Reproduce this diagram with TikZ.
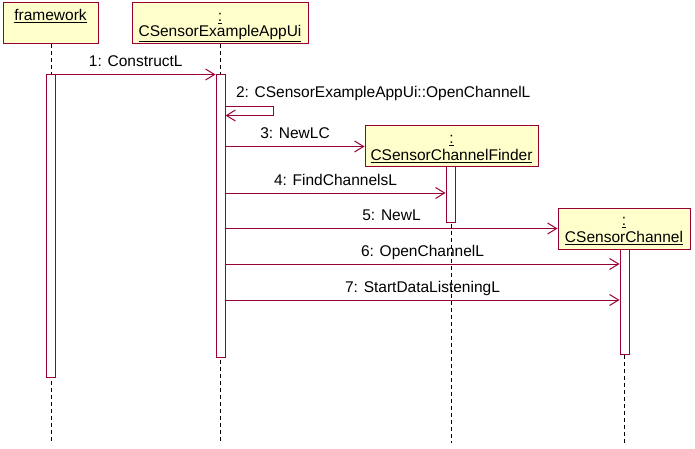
\documentclass[tikz,border=0pt]{standalone}
\usepackage{fontspec}
\setmainfont{Liberation Sans}
\usetikzlibrary{arrows.meta}
\definecolor{umlred}{RGB}{153,0,51}
\definecolor{umlfill}{RGB}{255,255,204}
\tikzset{
  objbox/.style={draw=umlred, fill=umlfill, line width=1pt, rectangle, inner sep=0pt},
  actbar/.style={draw=umlred, fill=white, line width=1pt, rectangle, inner sep=0pt, minimum width=9pt},
  lifeline/.style={draw=black, line width=1pt, dash pattern=on 4pt off 3pt},
  msg/.style={draw=umlred, line width=1pt, -{Straight Barb[length=9pt,width=11pt]}},
  msglabel/.style={anchor=base, yshift=8pt, inner sep=0pt, text=black},
  boxtext/.style={anchor=base, inner sep=0pt, text=black}
}
\begin{document}
\begin{tikzpicture}[x=1pt,y=-1pt,font=\fontsize{15.5pt}{18pt}\selectfont]
\useasboundingbox (0,0) rectangle (695,449);
% object boxes
\node[objbox, minimum width=95pt, minimum height=41pt] (fw) at (50.5,23.5) {};
\node[boxtext] (fwt) at ([yshift=-18pt]fw.north) {\underline{framework}};
\node[objbox, minimum width=176pt, minimum height=41pt] (ui) at (220,23.5) {};
\node[boxtext] (uic) at ([yshift=-19pt]ui.north) {\underline{:}};
\node[boxtext] (uit) at ([yshift=-34pt]ui.north) {\underline{CSensorExampleAppUi}};
\node[objbox, minimum width=173pt, minimum height=41pt] (cf) at (451.5,146.5) {};
\node[boxtext] (cfc) at ([yshift=-18pt]cf.north) {\underline{:}};
\node[boxtext] (cft) at ([yshift=-35pt]cf.north) {\underline{CSensorChannelFinder}};
\node[objbox, minimum width=132pt, minimum height=41pt] (ch) at (624,228.5) {};
\node[boxtext] (chc) at ([yshift=-18pt]ch.north) {\underline{:}};
\node[boxtext] (cht) at ([yshift=-35pt]ch.north) {\underline{CSensorChannel}};
% lifeline ends
\coordinate (fwend) at (51,443);
\coordinate (uiend) at (220.5,443);
\coordinate (cfend) at (451,443);
\coordinate (chend) at (624.5,443);
\draw[lifeline] (fwend |- fw.south) -- (fwend);
\draw[lifeline] (uiend |- ui.south) -- (uiend);
\draw[lifeline] (cfend |- cf.south) -- (cfend);
\draw[lifeline] (chend |- ch.south) -- (chend);
% activation bars
\node[actbar, minimum height=302pt] (fwbar) at (51,226) {};
\node[actbar, minimum height=282pt] (uibar) at (220.5,216) {};
\node[actbar, minimum height=55pt] (cfbar) at (450.5,194.5) {};
\node[actbar, minimum height=105pt] (chbar) at (624.5,301.5) {};
% message rows
\coordinate (m4) at (0,193);
\coordinate (m6) at (0,264);
\coordinate (m7) at (0,300);
% messages
\draw[msg] (fwbar.north east) -- node[msglabel, midway] {1: ConstructL} (uibar.north west);
\draw[msg] ([yshift=-32pt]uibar.north east)
   node[anchor=base west, xshift=10pt, yshift=9pt, inner sep=0pt] (m2l) {2: CSensorExampleAppUi::OpenChannelL}
   -- ++(48,0) -- ++(0,9) -- ([yshift=-41pt]uibar.north east);
\draw[msg] (uibar.east |- cf.west) -- node[msglabel, midway] {3: NewLC} (cf.west);
\draw[msg] (uibar.east |- m4) -- node[msglabel, midway] {4: FindChannelsL} (cfbar.west |- m4);
\draw[msg] (uibar.east |- ch.west) -- node[msglabel, midway] {5: NewL} (ch.west);
\draw[msg] (uibar.east |- m6) -- node[msglabel, midway] {6: OpenChannelL} (chbar.west |- m6);
\draw[msg] (uibar.east |- m7) -- node[msglabel, midway] {7: StartDataListeningL} (chbar.west |- m7);
\end{tikzpicture}
\end{document}
